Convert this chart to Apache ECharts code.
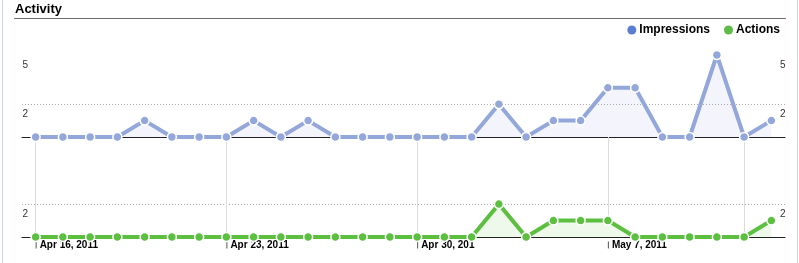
<!DOCTYPE html>
<html><head><meta charset="utf-8">
<script src="https://cdn.jsdelivr.net/npm/echarts@6/dist/echarts.min.js"></script>
<style>html,body{margin:0;padding:0;background:#fff}#c{width:799px;height:263px}</style>
</head><body><div id="c"></div>
<script>
const dates = ['Apr 16, 2011','Apr 17, 2011','Apr 18, 2011','Apr 19, 2011','Apr 20, 2011','Apr 21, 2011','Apr 22, 2011',
  'Apr 23, 2011','Apr 24, 2011','Apr 25, 2011','Apr 26, 2011','Apr 27, 2011','Apr 28, 2011','Apr 29, 2011',
  'Apr 30, 2011','May 1, 2011','May 2, 2011','May 3, 2011','May 4, 2011','May 5, 2011','May 6, 2011',
  'May 7, 2011','May 8, 2011','May 9, 2011','May 10, 2011','May 11, 2011','May 12, 2011','May 13, 2011'];
const impressions = [0,0,0,0,1,0,0,0,1,0,1,0,0,0,0,0,0,2,0,1,1,3,3,0,0,5,0,1];
const actions     = [0,0,0,0,0,0,0,0,0,0,0,0,0,0,0,0,0,2,0,1,1,1,0,0,0,0,0,1];
const tickIndex = [0,7,14,21];
const tickLabels = ['Apr 16, 2011','Apr 23, 2011','Apr 30, 201','May 7, 2011'];
const weekLines = [0,7,14,21,26];
const topTicks = [2,5];
const bottomTicks = [2];

const FONT = 'Liberation Sans, Arial, sans-serif';
const chart = echarts.init(document.getElementById('c'));
const yLab = (side) => ({
  show: true, customValues: null, fontSize: 10, color: '#333', fontFamily: FONT,
  verticalAlign: 'top', padding: [5,0,0,0], margin: side === 'left' ? -6 : -5
});
function yAx(grid, pos, max, ticks) {
  const l = yLab(pos); l.customValues = ticks;
  return { type:'value', gridIndex:grid, position:pos, min:0, max:max,
    axisLine:{show:false}, axisTick:{show:false}, splitLine:{show:false}, axisLabel:l };
}
chart.setOption({
  animation:false,
  textStyle:{fontFamily:FONT},
  title:{text:'Activity', left:15, top:3, padding:0,
    textStyle:{fontSize:13, fontWeight:'bold', color:'#000', fontFamily:FONT}},
  legend:{data:[{name:'Impressions', itemStyle:{color:'#5b7fd0'}},{name:'Actions', itemStyle:{color:'#5dbb46'}}],
    right:19, top:24, padding:0, icon:'circle', itemWidth:9, itemHeight:9, itemGap:14,
    itemStyle:{borderWidth:0},
    textStyle:{fontSize:12, fontWeight:'bold', color:'#000', fontFamily:FONT, padding:[0,0,0,-2]}},
  graphic:[
    {type:'line', shape:{x1:14, y1:18.5, x2:786, y2:18.5}, style:{stroke:'#6e6e6e', lineWidth:1}},
    {type:'line', shape:{x1:2.5, y1:0, x2:2.5, y2:263}, style:{stroke:'#cbd3e6', lineWidth:1}},
    {type:'line', shape:{x1:797.5, y1:0, x2:797.5, y2:263}, style:{stroke:'#cbd3e6', lineWidth:1}}
  ],
  grid:[
    {left:22, right:14, top:55, height:82},
    {left:22, right:14, top:137, height:100}
  ],
  xAxis:[
    {type:'category', gridIndex:0, data:dates, boundaryGap:true,
      axisLine:{lineStyle:{color:'#222', width:1}}, axisTick:{show:false}, axisLabel:{show:false}, splitLine:{show:false}},
    {type:'category', gridIndex:1, data:dates, boundaryGap:true,
      axisLine:{lineStyle:{color:'#222', width:1}}, axisTick:{show:false}, splitLine:{show:false},
      axisLabel:{show:true, interval:(i)=>tickIndex.indexOf(i)>=0, align:'left', margin:3,
        formatter:(v,i)=>{const k=tickIndex.indexOf(i); return k>=0 ? '{t| }{d|'+tickLabels[k]+'}' : '';},
        rich:{t:{width:1, height:7, backgroundColor:'#555', fontSize:10},
              d:{fontSize:10, fontWeight:'bold', color:'#000', fontFamily:FONT, padding:[0,0,0,3]}}}}
  ],
  yAxis:[
    yAx(0,'left',5,topTicks),
    yAx(1,'left',100/16.45,bottomTicks),
    yAx(0,'right',5,topTicks),
    yAx(1,'right',100/16.45,bottomTicks)
  ],
  series:[
    {name:'Impressions', type:'line', xAxisIndex:0, yAxisIndex:0, data:impressions,
      symbol:'circle', symbolSize:9, showSymbol:true,
      lineStyle:{color:'#93a7db', width:4},
      itemStyle:{color:'#93a7db', borderColor:'#fff', borderWidth:1.5},
      areaStyle:{color:'#f4f5fc', opacity:1, origin:'start'},
      markLine:{silent:true, symbol:'none', label:{show:false}, animation:false,
        lineStyle:{color:'#aaa', type:[1,2], width:1}, data:[{yAxis:2}]}},
    {name:'Actions', type:'line', xAxisIndex:1, yAxisIndex:1, data:actions,
      symbol:'circle', symbolSize:9, showSymbol:true,
      lineStyle:{color:'#5cbf3f', width:4},
      itemStyle:{color:'#5cbf3f', borderColor:'#fff', borderWidth:1.5},
      areaStyle:{color:'#eff9eb', opacity:1, origin:'start'},
      markLine:{silent:true, symbol:'none', label:{show:false}, animation:false, z:1,
        data:[{yAxis:2, lineStyle:{color:'#aaa', type:[1,2], width:1}}].concat(
          weekLines.map(i=>({xAxis:i, lineStyle:{color:'#dcdcdc', type:'solid', width:1}})))}}
  ]
});
</script></body></html>
